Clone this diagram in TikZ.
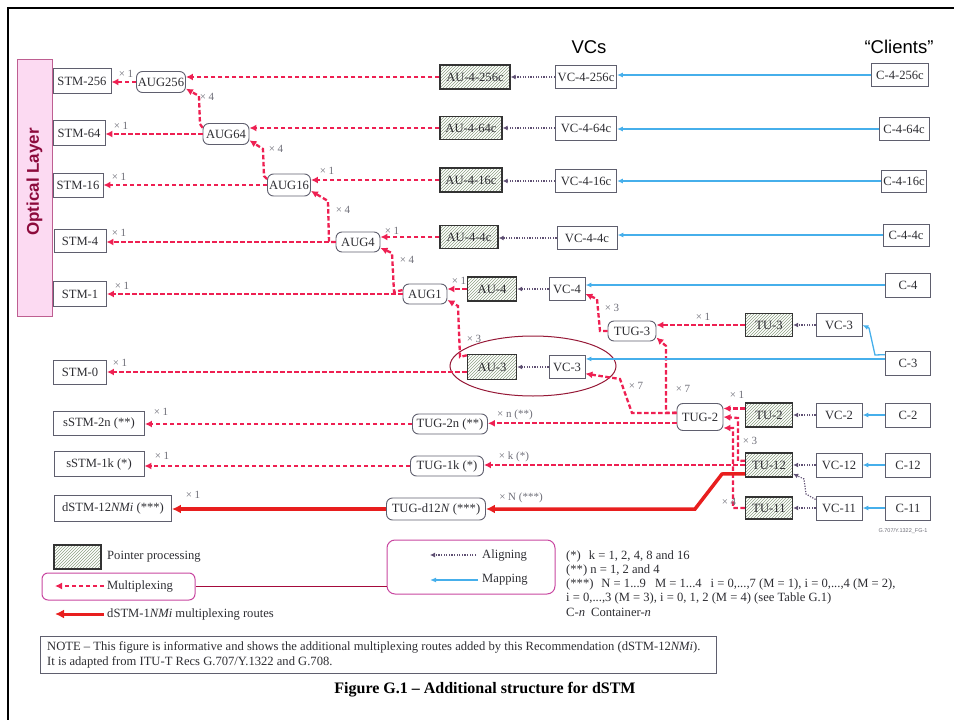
\documentclass[tikz,border=0pt]{standalone}
\usepackage{fontspec}
\setmainfont{Liberation Serif}
\newfontfamily\sansf{Liberation Sans}
\usetikzlibrary{arrows.meta,patterns,shapes.geometric}
\definecolor{muxred}{RGB}{238,32,82}
\definecolor{dred}{RGB}{232,30,30}
\definecolor{mapblue}{RGB}{70,175,235}
\definecolor{aligncol}{RGB}{95,80,115}
\definecolor{boxgray}{RGB}{95,95,110}
\definecolor{txt}{RGB}{45,45,50}
\definecolor{hatchc}{RGB}{140,160,130}
\definecolor{multgray}{RGB}{110,110,120}
\definecolor{olfill}{RGB}{252,218,242}
\definecolor{olline}{RGB}{190,95,145}
\definecolor{oltext}{RGB}{140,10,60}
\definecolor{ellc}{RGB}{150,25,55}
\definecolor{legline}{RGB}{200,70,160}
\definecolor{legconn}{RGB}{165,10,60}
\newcommand\ndf{\fontsize{12.6}{13}\selectfont}
\newcommand\mlf{\fontsize{11}{12}\selectfont}
\newcommand\ftf{\fontsize{12.6}{13}\selectfont}
\begin{document}
\begin{tikzpicture}[x=1pt,y=-1pt,
 box/.style={draw=boxgray, line width=0.9pt, inner sep=0pt, font=\ndf, text=txt},
 ptr/.style={box, draw=black!80, line width=1.4pt, pattern=north east lines, pattern color=hatchc},
 rbox/.style={box, rounded corners=6pt},
 mux/.style={draw=muxred, line width=2.3pt, dash pattern=on 4.5pt off 2.5pt, -{Latex[length=7pt,width=7pt]}},
 dsr/.style={draw=dred, line width=3.5pt, -{Latex[length=9pt,width=9pt]}},
 aln/.style={draw=aligncol, line width=1.2pt, dash pattern=on 1.2pt off 1.4pt, -{Latex[length=5pt,width=5pt]}},
 mapl/.style={draw=mapblue, line width=1.3pt, -{Latex[length=6pt,width=5pt]}},
 ml/.style={font=\mlf, text=multgray, inner sep=0pt},
 ft/.style={font=\ftf, text=txt, anchor=west, inner sep=0pt}
]
\useasboundingbox (0,0) rectangle (954,720);
\draw[line width=2.5pt] (8,720) -- (8,8) -- (954,8);

% optical layer
\node[draw=olline, fill=olfill, line width=1pt, minimum width=35, minimum height=257, inner sep=0pt] (ol) at (34.5,187.5) {};
\node[rotate=90, font=\sansf\bfseries\fontsize{17}{18}\selectfont, text=oltext] (olt) at (34.5,182) {Optical Layer};

\node[font=\sansf\fontsize{18.5}{19}\selectfont] (vcs) at (589,47) {VCs};
\node[font=\sansf\fontsize{18.5}{19}\selectfont] (cli) at (899,47) {“Clients”};

% STM column
\node[box, minimum width=58, minimum height=25] (stm256) at (82,81) {STM-256};
\node[box, minimum width=52, minimum height=25] (stm64) at (79,133) {STM-64};
\node[box, minimum width=50, minimum height=24] (stm16) at (78,185) {STM-16};
\node[box, minimum width=52, minimum height=23] (stm4) at (80,241) {STM-4};
\node[box, minimum width=53, minimum height=25] (stm1) at (80,294) {STM-1};
\node[box, minimum width=53, minimum height=24] (stm0) at (80,372) {STM-0};
\node[box, minimum width=91, minimum height=24] (sstm2n) at (99,423) {sSTM-2n (**)};
\node[box, minimum width=90, minimum height=25] (sstm1k) at (99,464) {sSTM-1k (*)};
\node[box, minimum width=117, minimum height=26] (dstm) at (113,508) {dSTM-12\textit{NMi} (***)};

% AUG
\node[rbox, minimum width=49, minimum height=21] (aug256) at (161,82) {AUG256};
\node[rbox, minimum width=46, minimum height=21] (aug64) at (226,134) {AUG64};
\node[rbox, minimum width=43, minimum height=22] (aug16) at (289,185) {AUG16};
\node[rbox, minimum width=44, minimum height=20] (aug4) at (358,242) {AUG4};
\node[rbox, minimum width=44, minimum height=20] (aug1) at (425,294) {AUG1};

% AU
\node[ptr, minimum width=70, minimum height=24] (au256) at (475,77) {AU-4-256c};
\node[ptr, minimum width=62, minimum height=23] (au64) at (471,128) {AU-4-64c};
\node[ptr, minimum width=62, minimum height=24] (au16) at (471,180) {AU-4-16c};
\node[ptr, minimum width=58, minimum height=23] (au4c) at (469,237) {AU-4-4c};
\node[ptr, minimum width=49, minimum height=24] (au4) at (492,289) {AU-4};
\node[ptr, minimum width=49, minimum height=25] (au3) at (492,367) {AU-3};

% VC
\node[box, minimum width=61, minimum height=23] (vc256) at (586,77) {VC-4-256c};
\node[box, minimum width=61, minimum height=24] (vc64) at (586,128) {VC-4-64c};
\node[box, minimum width=61, minimum height=23] (vc16) at (586,181) {VC-4-16c};
\node[box, minimum width=60, minimum height=23] (vc4c) at (587,238) {VC-4-4c};
\node[box, minimum width=36, minimum height=23] (vc4) at (567,289) {VC-4};
\node[box, minimum width=36, minimum height=23] (vc3l) at (567,367) {VC-3};

% Clients
\node[box, minimum width=57, minimum height=23] (c256) at (900,75) {C-4-256c};
\node[box, minimum width=50, minimum height=23] (c64) at (904,129) {C-4-64c};
\node[box, minimum width=45, minimum height=22] (c16) at (904,181) {C-4-16c};
\node[box, minimum width=46, minimum height=22] (c4c) at (906,235) {C-4-4c};
\node[box, minimum width=45, minimum height=24] (c4) at (908,285) {C-4};
\node[box, minimum width=45, minimum height=24] (c3) at (908,363) {C-3};
\node[box, minimum width=45, minimum height=24] (c2) at (908,415) {C-2};
\node[box, minimum width=45, minimum height=24] (c12) at (908,465) {C-12};
\node[box, minimum width=45, minimum height=24] (c11) at (908,508) {C-11};

% TUG / TU
\node[rbox, minimum width=48, minimum height=20] (tug3) at (632,331) {TUG-3};
\node[ptr, minimum width=47, minimum height=23] (tu3) at (769,325) {TU-3};
\node[box, minimum width=46, minimum height=23] (vc3r) at (839,325) {VC-3};
\node[rbox, minimum width=46, minimum height=27] (tug2) at (700,417) {TUG-2};
\node[ptr, minimum width=47, minimum height=24] (tu2) at (769,415) {TU-2};
\node[box, minimum width=46, minimum height=24] (vc2) at (839,415) {VC-2};
\node[ptr, minimum width=47, minimum height=24] (tu12) at (769,465) {TU-12};
\node[box, minimum width=46, minimum height=24] (vc12) at (839,465) {VC-12};
\node[ptr, minimum width=47, minimum height=22] (tu11) at (769,508) {TU-11};
\node[box, minimum width=46, minimum height=24] (vc11) at (839,508) {VC-11};
\node[rbox, minimum width=75, minimum height=20] (tug2n) at (450,424) {TUG-2n (**)};
\node[rbox, minimum width=73, minimum height=20] (tug1k) at (447,466) {TUG-1k (*)};
\node[rbox, minimum width=99, minimum height=22] (tugd) at (436,509) {TUG-d12\textit{N} (***)};

\node[draw=ellc, line width=1pt, ellipse, minimum width=166, minimum height=60] (ell) at (533,366) {};

% multiplexing
\draw[mux] (au256.west) -- (aug256.east |- au256.west);
\draw[mux] (aug256.west) -- (stm256.east |- aug256.west);
\draw[mux] (au64.west) -- (aug64.east |- au64.west);
\draw[mux] (aug64.west) -- (stm64.east |- aug64.west);
\draw[mux] (au16.west) -- (aug16.east |- au16.west);
\draw[mux] (aug16.west) -- (stm16.east |- aug16.west);
\draw[mux] (au4c.west) -- (aug4.east |- au4c.west);
\draw[mux] (aug4.west) -- (stm4.east |- aug4.west);
\draw[mux] (au4.west) -- (aug1.east |- au4.west);
\draw[mux] (aug1.west) -- (stm1.east |- aug1.west);
\draw[mux] (au3.west |- stm0.east) -- (stm0.east);
\draw[mux] (aug64.165) -- (200,124) -- (199,96) -- (aug256.-15);
\draw[mux] (aug16.165) -- (264,176) -- (263,149) -- (aug64.-15);
\draw[mux] (aug4.west) -- (329,242) -- (328,201) -- (aug16.-15);
\draw[mux] (aug1.170) -- (394,292) -- (392,253) -- (aug4.-15);
\draw[mux] (au3.155) -- (460,357) -- (458,306) -- (aug1.-15);
\draw[mux] (tug3.west) -- (600,331) -- (597,299) -- (vc4.-15);
\draw[mux] (tu3.west) -- (tug3.east |- tu3.west);
\draw[mux] (tug2.170) -- (666,413) -- (666,346) -- (tug3.-15);
\draw[mux] (tug2.170) -- (632,413) -- (620,379) -- (vc3l.-20);
\draw[mux] (tug2.-165) -- (tug2n.east |- tug2.-165);
\draw[mux] (tug2n.west) -- (sstm2n.east |- tug2n.west);
\draw[mux] (tu2.165) -- (tug2.east |- tu2.165);
\draw[mux] (tu12.170) -- (738,461) -- (738,418) -- (tug2.east);
\draw[mux] (tu11.west) -- (733,508) -- (733,428) -- (tug2.-25);
\draw[mux] (tu12.west) -- (tug1k.east |- tu12.west);
\draw[mux] (tug1k.west) -- (sstm1k.east |- tug1k.west);
\draw[dsr] (tu12.-160) -- (722,474) -- (695,509) -- (tugd.east);
\draw[dsr] (tugd.west) -- (dstm.east |- tugd.west);

% aligning
\draw[aln] (vc256.west) -- (au256.east |- vc256.west);
\draw[aln] (vc64.west) -- (au64.east |- vc64.west);
\draw[aln] (vc16.west) -- (au16.east |- vc16.west);
\draw[aln] (vc4c.west) -- (au4c.east |- vc4c.west);
\draw[aln] (vc4.west) -- (au4.east |- vc4.west);
\draw[aln] (vc3l.west) -- (au3.east |- vc3l.west);
\draw[aln] (vc3r.west) -- (tu3.east |- vc3r.west);
\draw[aln] (vc2.west) -- (tu2.east |- vc2.west);
\draw[aln] (vc12.west) -- (tu12.east |- vc12.west);
\draw[aln] (vc11.west) -- (tu11.east |- vc11.west);
\draw[aln] (vc11.160) -- (806,494) -- (804,479) -- (tu12.-20);

% mapping
\draw[mapl] (c256.west) -- (vc256.east |- c256.west);
\draw[mapl] (c64.west) -- (vc64.east |- c64.west);
\draw[mapl] (c16.west) -- (vc16.east |- c16.west);
\draw[mapl] (c4c.west) -- (vc4c.east |- c4c.west);
\draw[mapl] (c4.west) -- (vc4.east |- c4.west);
\draw[mapl] (c3.170) -- (vc3l.east |- c3.170);
\draw[mapl] (c3.160) -- (875,355) -- (869,328) -- (vc3r.east);
\draw[mapl] (c2.west) -- (vc2.east |- c2.west);
\draw[mapl] (c12.west) -- (vc12.east |- c12.west);
\draw[mapl] (c11.west) -- (vc11.east |- c11.west);

% multiplicity labels
\node[ml] at (126,74) {× 1};
\node[ml] at (207,97) {× 4};
\node[ml] at (121,126) {× 1};
\node[ml] at (276,149) {× 4};
\node[ml] at (119,177) {× 1};
\node[ml] at (327,171) {× 1};
\node[ml] at (343,210) {× 4};
\node[ml] at (119,233) {× 1};
\node[ml] at (392,231) {× 1};
\node[ml] at (407,260) {× 4};
\node[ml] at (122,286) {× 1};
\node[ml] at (459,281) {× 1};
\node[ml] at (612,308) {× 3};
\node[ml] at (474,339) {× 3};
\node[ml] at (703,317) {× 1};
\node[ml] at (120,363) {× 1};
\node[ml] at (636,386) {× 7};
\node[ml] at (683,389) {× 7};
\node[ml] at (737,395) {× 1};
\node[ml] at (515,415) {× n (**)};
\node[ml] at (161,412) {× 1};
\node[ml] at (750,441) {× 3};
\node[ml] at (514,457) {× k (*)};
\node[ml] at (162,456) {× 1};
\node[ml] at (521,498) {× N (***)};
\node[ml] at (193,495) {× 1};
\node[ml] at (729,502) {× 4};

\node[font=\sansf\fontsize{5.5}{6}\selectfont, text=multgray] (tag) at (903,531) {G.707/Y.1322\_FG-1};

% legend
\node[ptr, minimum width=47, minimum height=24] (lptr) at (77.5,557) {};
\node[ft] (lptrt) at (107,557) {Pointer processing};
\node[draw=legline, rounded corners=6pt, line width=1pt, minimum width=153, minimum height=27, inner sep=0pt] (lmux) at (118.5,586.5) {};
\coordinate (lm1) at (104,586); \coordinate (lm2) at (55,586);
\draw[mux, line width=1.8pt] (lm1) -- (lm2);
\node[ft] (lmt) at (107,586) {Multiplexing};
\coordinate (ld1) at (104,614); \coordinate (ld2) at (55,614);
\draw[dsr, line width=3pt] (ld1) -- (ld2);
\node[ft] (ldt) at (107,614) {dSTM-1\textit{NMi} multiplexing routes};
\node[draw=legline, rounded corners=8pt, line width=1pt, minimum width=168, minimum height=54, inner sep=0pt] (lal) at (471,567) {};
\coordinate (la1) at (476,555); \coordinate (la2) at (430,555);
\draw[aln] (la1) -- (la2);
\node[ft] (lat) at (482,555) {Aligning};
\coordinate (lp1) at (478,580); \coordinate (lp2) at (430,580);
\draw[mapl] (lp1) -- (lp2);
\node[ft] (lpt) at (482,580) {Mapping};
\draw[legconn, line width=1pt] (lmux.east) -- (lal.west |- lmux.east);

% footnotes
\node[ft] at (566,556) {(*)\hspace{8pt}k = 1, 2, 4, 8 and 16};
\node[ft] at (566,570) {(**) n = 1, 2 and 4};
\node[ft] at (566,584) {(***)\hspace{8pt}N = 1...9\hspace{9pt}M = 1...4\hspace{9pt}i = 0,...,7 (M = 1), i = 0,...,4 (M = 2),};
\node[ft] at (566,598) {i = 0,...,3 (M = 3), i = 0, 1, 2 (M = 4) (see Table G.1)};
\node[ft] at (566,612) {C-\textit{n}\hspace{6pt}Container-\textit{n}};

% note
\node[draw=boxgray, line width=1pt, minimum width=676, minimum height=37, inner sep=0pt] (note) at (378,654.5) {};
\node[ft] at (47,647) {NOTE – This figure is informative and shows the additional multiplexing routes added by this Recommendation (dSTM-12\textit{NMi}).};
\node[ft] at (47,662) {It is adapted from ITU-T Recs G.707/Y.1322 and G.708.};
\node[font=\bfseries\fontsize{16}{17}\selectfont] (cap) at (485,690) {Figure G.1 – Additional structure for dSTM};
\end{tikzpicture}
\end{document}
